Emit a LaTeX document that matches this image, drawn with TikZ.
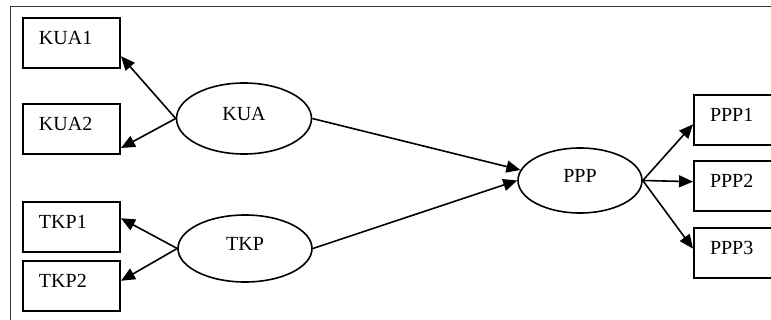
\documentclass[tikz,border=0pt]{standalone}
\usepackage{fontspec}
\setmainfont{Liberation Serif}
\usetikzlibrary{shapes.geometric,arrows.meta}

\begin{document}
\begin{tikzpicture}[x=0.5pt,y=-0.5pt,
  box/.style={draw,line width=1pt,rectangle,anchor=north west,inner xsep=8pt,inner ysep=0pt,
    text width=32.5pt,align=left,text height=13.5pt,text depth=11.5pt},
  latent/.style={draw,line width=0.8pt,ellipse,inner sep=0pt,text height=7pt,text depth=5pt},
  arr/.style={line width=0.8pt,-{Triangle[length=7pt,width=6pt]}}]

\useasboundingbox (0,0) rectangle (771,320);
\clip (0,0) rectangle (771,320);

% frame
\draw [line width=0.5pt,black!80] (10,7) rectangle (800,340);

% indicators
\node [box] (kua1) at (22,17) {KUA1};
\node [box] (kua2) at (22,103) {KUA2};
\node [box] (tkp1) at (22,201) {TKP1};
\node [box] (tkp2) at (22,260) {TKP2};
\node [box] (ppp1) at (693,94) {PPP1};
\node [box] (ppp2) at (693,160) {PPP2};
\node [box] (ppp3) at (693,227) {PPP3};

% latent variables
\node [latent,minimum width=67.5pt,minimum height=35.5pt] (kua) at (244,118.5) {KUA};
\node [latent,minimum width=67pt,minimum height=33.5pt] (tkp) at (245,248.5) {TKP};
\node [latent,minimum width=62pt,minimum height=32.5pt] (ppp) at (580,180.5) {PPP};

\draw [arr] (kua.west) -- (kua1.-15);
\draw [arr] (kua.west) -- (kua2.-21);
\draw [arr] (tkp.west) -- (tkp1.10);
\draw [arr] (tkp.west) -- (tkp2.6);

\draw [arr] (kua.east) -- (ppp.170);
\draw [arr] (tkp.east) -- (ppp.west);

\draw [arr] (ppp.east) -- (ppp1.185);
\draw [arr] (ppp.east) -- (ppp2.175);
\draw [arr] (ppp.east) -- (ppp3.175);

\end{tikzpicture}
\end{document}
